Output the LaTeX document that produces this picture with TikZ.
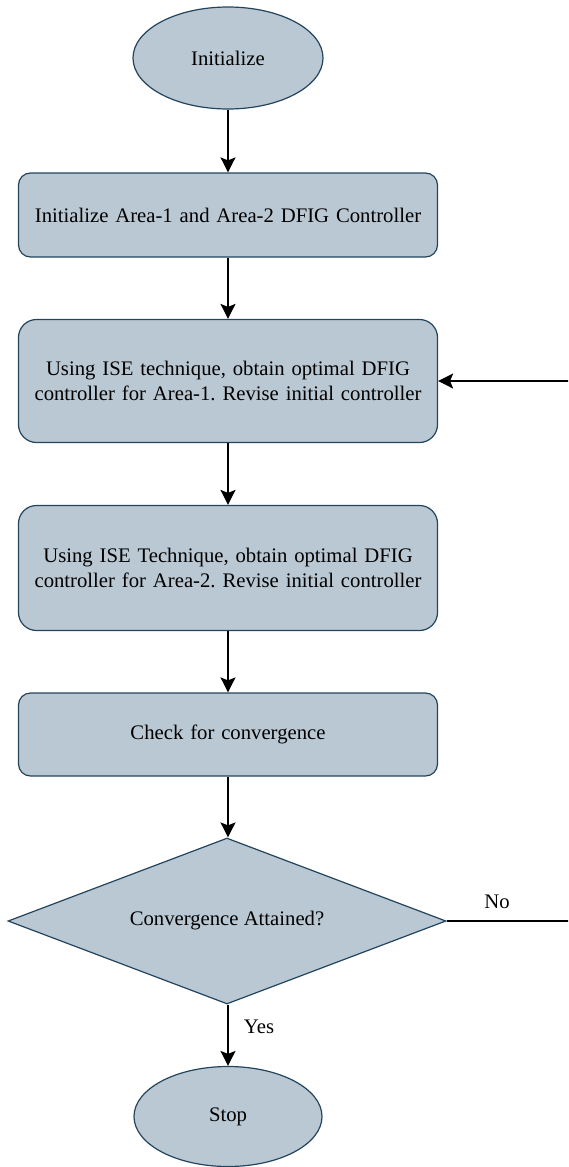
\documentclass[tikz,border=0pt]{standalone}
\usepackage{fontspec}
\setmainfont{Liberation Serif}
\usetikzlibrary{shapes.geometric,arrows.meta}
\definecolor{nodefill}{HTML}{BAC8D3}
\definecolor{nodeline}{HTML}{23445D}
\frenchspacing
\begin{document}
\begin{tikzpicture}[x=1pt,y=-1pt,
  base/.style={draw=nodeline, fill=nodefill, line width=1.2pt,
    font=\fontsize{20.7}{25}\selectfont, align=center, inner sep=0pt, text=black},
  term/.style={base, ellipse, minimum width=190pt, minimum height=102pt},
  procbox/.style={base, rectangle, minimum width=419pt, text width=410pt},
  decision/.style={base, diamond, minimum width=438pt, minimum height=166pt, shape aspect=2.64},
  conn/.style={line width=1.5pt, -{Stealth[length=15pt,width=15pt,inset=3pt]}},
  lbl/.style={font=\fontsize{20.7}{25}\selectfont, inner sep=0pt, text=black}]
\useasboundingbox (0,0) rectangle (568,1167);
\clip (0,0) rectangle (568,1167);

\node[term] (init) at (228,58) {Initialize};
\node[procbox, minimum height=84pt, rounded corners=12pt] (box1) at (228,215) {Initialize Area-1 and Area-2 DFIG Controller};
\node[procbox, minimum height=123pt, rounded corners=18pt] (box2) at (228,381) {Using ISE technique, obtain optimal DFIG\\controller for Area-1. Revise initial controller};
\node[procbox, minimum height=125pt, rounded corners=18pt] (box3) at (228,568) {Using ISE Technique, obtain optimal DFIG\\controller for Area-2. Revise initial controller};
\node[procbox, minimum height=83pt, rounded corners=12pt] (box4) at (228,734.5) {Check for convergence};
\node[decision] (dec) at (227,921) {Convergence Attained?};
\node[term, minimum width=188pt, minimum height=100pt] (stop) at (228,1116.5) {Stop};

\coordinate (loopcorner) at (570,921);

\draw[conn] (init) -- (box1);
\draw[conn] (box1) -- (box2);
\draw[conn] (box2) -- (box3);
\draw[conn] (box3) -- (box4);
\draw[conn] (box4.south) -- (box4.south |- dec.north);
\draw[conn] (dec.south -| stop.north) -- (stop.north);
\draw[conn] (dec.east) -- (loopcorner) |- (box2.east);

\node[lbl] (nolabel) at (497,902) {No};
\node[lbl] (yeslabel) at (259,1027) {Yes};
\end{tikzpicture}
\end{document}
